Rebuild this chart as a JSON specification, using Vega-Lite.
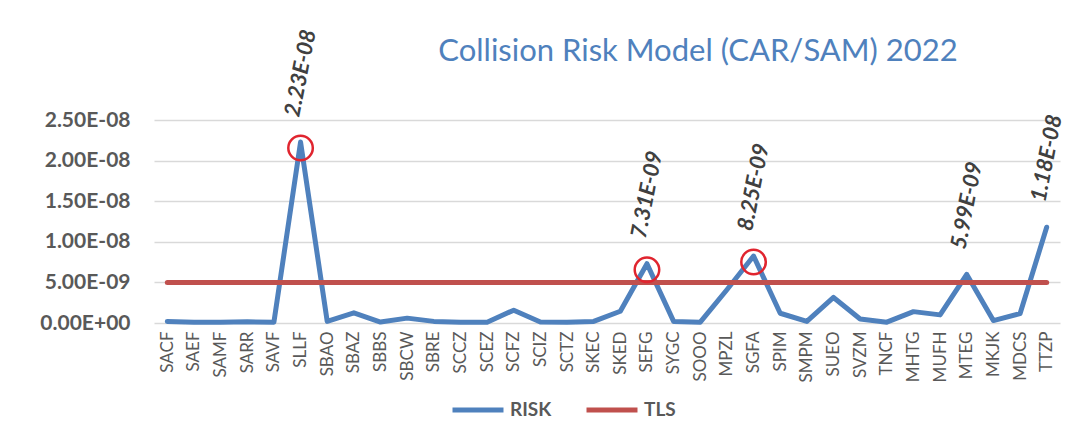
{
  "$schema": "https://vega.github.io/schema/vega-lite/v6.json",
  "width": 906,
  "height": 211,
  "autosize": {"type": "none"},
  "padding": {"left": 154, "top": 112, "right": 14, "bottom": 108},
  "background": "white",
  "title": {
    "text": "Collision Risk Model (CAR/SAM) 2022",
    "anchor": "middle",
    "frame": "group",
    "dx": 91,
    "dy": 40,
    "offset": 0,
    "font": "Lato",
    "fontSize": 31,
    "fontWeight": "normal",
    "color": "#4F81BD"
  },
  "config": {
    "view": {"stroke": null},
    "font": "Lato"
  },
  "data": {
    "values": [
      {"code": "SACF", "RISK": 2.0e-10, "TLS": 5e-9},
      {"code": "SAEF", "RISK": 1.0e-10, "TLS": 5e-9},
      {"code": "SAMF", "RISK": 1.0e-10, "TLS": 5e-9},
      {"code": "SARR", "RISK": 1.5e-10, "TLS": 5e-9},
      {"code": "SAVF", "RISK": 1.0e-10, "TLS": 5e-9},
      {"code": "SLLF", "RISK": 2.23e-8, "TLS": 5e-9, "label": "2.23E-08"},
      {"code": "SBAO", "RISK": 2.0e-10, "TLS": 5e-9},
      {"code": "SBAZ", "RISK": 1.25e-9, "TLS": 5e-9},
      {"code": "SBBS", "RISK": 1.2e-10, "TLS": 5e-9},
      {"code": "SBCW", "RISK": 6.0e-10, "TLS": 5e-9},
      {"code": "SBRE", "RISK": 2.0e-10, "TLS": 5e-9},
      {"code": "SCCZ", "RISK": 1.0e-10, "TLS": 5e-9},
      {"code": "SCEZ", "RISK": 1.0e-10, "TLS": 5e-9},
      {"code": "SCFZ", "RISK": 1.58e-9, "TLS": 5e-9},
      {"code": "SCIZ", "RISK": 1.2e-10, "TLS": 5e-9},
      {"code": "SCTZ", "RISK": 1.0e-10, "TLS": 5e-9},
      {"code": "SKEC", "RISK": 2.0e-10, "TLS": 5e-9},
      {"code": "SKED", "RISK": 1.45e-9, "TLS": 5e-9},
      {"code": "SEFG", "RISK": 7.31e-9, "TLS": 5e-9, "label": "7.31E-09"},
      {"code": "SYGC", "RISK": 2.0e-10, "TLS": 5e-9},
      {"code": "SOOO", "RISK": 1.0e-10, "TLS": 5e-9},
      {"code": "MPZL", "RISK": 4.1e-9, "TLS": 5e-9},
      {"code": "SGFA", "RISK": 8.25e-9, "TLS": 5e-9, "label": "8.25E-09"},
      {"code": "SPIM", "RISK": 1.2e-9, "TLS": 5e-9},
      {"code": "SMPM", "RISK": 2.0e-10, "TLS": 5e-9},
      {"code": "SUEO", "RISK": 3.15e-9, "TLS": 5e-9},
      {"code": "SVZM", "RISK": 5.0e-10, "TLS": 5e-9},
      {"code": "TNCF", "RISK": 1.0e-10, "TLS": 5e-9},
      {"code": "MHTG", "RISK": 1.4e-9, "TLS": 5e-9},
      {"code": "MUFH", "RISK": 1.0e-9, "TLS": 5e-9},
      {"code": "MTEG", "RISK": 5.99e-9, "TLS": 5e-9, "label": "5.99E-09"},
      {"code": "MKJK", "RISK": 3.0e-10, "TLS": 5e-9},
      {"code": "MDCS", "RISK": 1.15e-9, "TLS": 5e-9},
      {"code": "TTZP", "RISK": 1.18e-8, "TLS": 5e-9, "label": "1.18E-08"}
    ]
  },
  "encoding": {
    "x": {
      "field": "code",
      "type": "nominal",
      "sort": null,
      "axis": {
        "title": null,
        "labelAngle": -90,
        "labelFontSize": 17,
        "labelColor": "#595959",
        "labelPadding": 8,
        "ticks": false,
        "domain": false,
        "grid": false
      }
    }
  },
  "layer": [
    {
      "mark": {"type": "line", "strokeWidth": 5, "strokeJoin": "round", "strokeCap": "round"},
      "encoding": {
        "y": {
          "field": "RISK",
          "type": "quantitative",
          "scale": {"domain": [0, 2.5e-8]},
          "axis": {
            "title": null,
            "values": [0, 5e-9, 1e-8, 1.5e-8, 2e-8, 2.5e-8],
            "labelExpr": "replace(replace(upper(format(datum.value, '.2e')), 'E-', 'E-0'), 'E+', 'E+0')",
            "labelFontSize": 21,
            "labelFontWeight": "bold",
            "labelColor": "#595959",
            "labelPadding": 24,
            "ticks": false,
            "domain": false,
            "gridColor": "#d9d9d9",
            "gridWidth": 1.5
          }
        },
        "color": {
          "datum": "RISK",
          "type": "nominal",
          "scale": {"domain": ["RISK", "TLS"], "range": ["#4F81BD", "#C0504D"]},
          "legend": {
            "title": null,
            "orient": "none",
            "direction": "horizontal",
            "legendX": 296,
            "legendY": 270,
            "symbolType": "stroke",
            "symbolSize": 2600,
            "symbolStrokeWidth": 5,
            "labelFontSize": 19,
            "labelFontWeight": "bold",
            "labelColor": "#595959",
            "labelOffset": 4,
            "columnPadding": 24
          }
        }
      }
    },
    {
      "mark": {"type": "line", "strokeWidth": 5, "strokeCap": "round"},
      "encoding": {
        "y": {"field": "TLS", "type": "quantitative"},
        "color": {"datum": "TLS", "type": "nominal"}
      }
    },
    {
      "transform": [{"filter": {"field": "code", "oneOf": ["SLLF", "SEFG", "SGFA"]}}],
      "mark": {"type": "point", "filled": false, "stroke": "#E0252F", "strokeWidth": 2.5, "size": 600, "yOffset": 6, "opacity": 1},
      "encoding": {
        "y": {"field": "RISK", "type": "quantitative"}
      }
    },
    {
      "transform": [{"filter": "datum.label != null"}],
      "mark": {"type": "text", "angle": -79, "align": "center", "baseline": "middle", "yOffset": -69, "fontSize": 22, "fontWeight": "bold", "fontStyle": "italic", "color": "#404040"},
      "encoding": {
        "y": {"field": "RISK", "type": "quantitative"},
        "text": {"field": "label"}
      }
    }
  ]
}
